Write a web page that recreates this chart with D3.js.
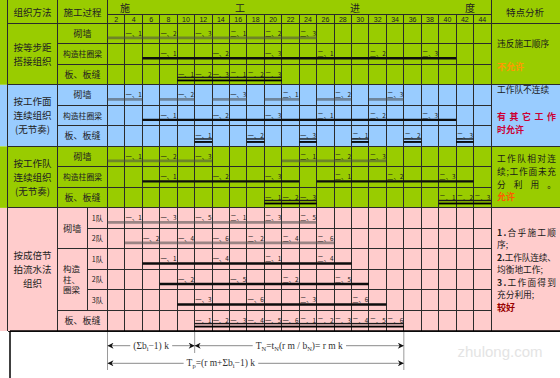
<!DOCTYPE html>
<html>
<head>
<meta charset="utf-8">
<script src="https://cdn.jsdelivr.net/npm/d3@7"></script>
<style>
  body { margin: 0; background: #fff; }
  svg { display: block; font-family: 'Noto Sans CJK SC', sans-serif; }
</style>
</head>
<body>
<svg id="chart"></svg>
<script>
// ---- data ----
const timeTicks = d3.range(2, 46, 2)
const progressTitle = ['施', '工', '进', '度']
const headerNames = ['组织方法', '施工过程', '特点分析']
const methodNames = [
    ['按等步距', '搭接组织'],
    ['按工作面', '连续组织', '(无节奏)'],
    ['按工作队', '连续组织', '(无节奏)'],
    ['按成倍节', '拍流水法', '组织'],
]
const sectionRows = [3, 3, 3, 6]
const processNames = ['砌墙', '构造柱圈梁', '板、板缝']
const beamStacked = ['构造', '柱、', '圈梁']
const teamNames = ['1队', '2队', '1队', '2队', '3队']

// bars: [label, start, end] in time units
const s1Wall = [['一、1', 0, 4], ['一、2', 4, 8], ['一、3', 8, 12], ['二、1', 12, 16], ['二、2', 16, 20], ['二、3', 20, 24]]
const s1Beam = [['一、1', 4, 10], ['一、2', 10, 16], ['一、3', 16, 22], ['二、1', 22, 28], ['二、2', 28, 34], ['二、3', 34, 40]]
const s1Slab = [['一、1', 8, 10], ['一、2', 10, 12], ['一、3', 12, 14], ['二、1', 14, 16], ['二、2', 16, 18], ['二、3', 18, 20]]

const s2Wall = [['一、1', 0, 4], ['一、2', 6, 10], ['一、3', 12, 16], ['二、1', 18, 22], ['二、2', 24, 28], ['二、3', 30, 34]]
const s2Beam = [['一、1', 4, 10], ['一、2', 10, 16], ['一、3', 16, 22], ['二、1', 22, 28], ['二、2', 28, 34], ['二、3', 34, 40]]
const s2Slab = [['一、1', 10, 12], ['一、2', 16, 18], ['一、3', 22, 24], ['二、1', 28, 30], ['二、2', 34, 36], ['二、3', 40, 42]]

const s3Wall = [['一、1', 0, 4], ['一、2', 4, 8], ['一、3', 8, 12], ['二、1', 20, 24], ['二、2', 24, 28], ['二、3', 28, 32]]
const s3Beam = [['一、1', 4, 10], ['一、2', 10, 16], ['一、3', 16, 22], ['二、1', 24, 30], ['二、2', 30, 36], ['二、3', 36, 42]]
const s3Slab = [['一、1', 18, 20], ['一、2', 20, 22], ['一、3', 22, 24], ['二、1', 38, 40], ['二、2', 40, 42], ['二、3', 42, 44]]

const s4Wall1 = [['一、1', 0, 4], ['一、3', 4, 8], ['一、5', 8, 12], ['二、1', 12, 16], ['二、3', 16, 20], ['二、5', 20, 24]]
const s4Wall2 = [['一、2', 2, 6], ['一、4', 6, 10], ['一、6', 10, 14], ['二、2', 14, 18], ['二、4', 18, 22], ['二、6', 22, 26]]
const s4Beam1 = [['一、1', 4, 10], ['一、4', 10, 16], ['二、1', 16, 22], ['二、4', 22, 28]]
const s4Beam2 = [['一、2', 6, 12], ['一、5', 12, 18], ['二、2', 18, 24], ['二、5', 24, 30]]
const s4Beam3 = [['一、3', 8, 14], ['一、6', 14, 20], ['二、3', 20, 26], ['二、6', 26, 32]]
const s4Slab = [['一、1', 10, 12], ['一、2', 12, 14], ['一、3', 14, 16], ['一、4', 16, 18], ['一、5', 18, 20], ['一、6', 20, 22],
    ['二、1', 22, 24], ['二、2', 24, 26], ['二、3', 26, 28], ['二、4', 28, 30], ['二、5', 30, 32], ['二、6', 32, 34]]

const rowBars = [s1Wall, s1Beam, s1Slab, s2Wall, s2Beam, s2Slab, s3Wall, s3Beam, s3Slab,
    s4Wall1, s4Wall2, s4Beam1, s4Beam2, s4Beam3, s4Slab]
const rowKinds = ['wall', 'beam', 'slab', 'wall', 'beam', 'slab', 'wall', 'beam', 'slab',
    'wall', 'wall', 'beam', 'beam', 'beam', 'slab']

const notes1 = ['违反施工顺序', '', '不允许']
const notes2 = ['工作队不连续', '', '有 其 它 工 作', '时允许', '']
const notes3 = ['工作队相对连', '续;工作面未充', '分 利 用   。', '允许']
const notes4 = ['1.合乎施工顺', '序;', '2.工作队连续、', '均衡地工作;', '3.工作面得到', '充分利用;', '较好']

// dimension marks below the table: [from, to] in time units
const dimSpans = [[0, 10], [10, 34], [0, 34]]
const dimTexts = [
    [['(Σb'], ['i', 1], ['−1)  k']],
    [['T'], ['N', 1], ['=t'], ['N', 1], ['(r m / b'], ['N', 1], [')= r m k']],
    [['T'], ['p', 1], ['=(r m+Σb'], ['i', 1], ['−1)  k']],
]

// ---- layout ----
const W = 560, H = 378
const LEFT = 7.5, METHOD_END = 57.5, PROC_END = 107.5, TEAM_X = 87, PLOT_RIGHT = 491
const HEAD_MID = 14, TABLE_TOP = 23.3, TABLE_BOTTOM = 331
const sectionColors = ['#99cc00', '#99ccff', '#99cc00', '#ffcccc']
const gridColor = '#2b2b2b'

const x = d3.scaleLinear().domain([0, 44]).range([PROC_END, PLOT_RIGHT])
const y = d3.scaleBand().domain(d3.range(15)).range([TABLE_TOP, TABLE_BOTTOM])
const rowTop = r => y(r)
const rowBottom = r => y(r) + y.bandwidth()

const sectionStart = d3.cumsum([0, ...sectionRows]).slice(0, 4)
const sections = sectionRows.map((n, i) => ({
    i,
    first: sectionStart[i],
    last: sectionStart[i] + n - 1,
    top: i === 0 ? 0 : rowTop(sectionStart[i]),
    bottom: rowBottom(sectionStart[i] + n - 1),
}))

const svg = d3.select('#chart').attr('width', W).attr('height', H)
svg.append('rect').attr('width', W).attr('height', H).attr('fill', '#fff')

// colour bands
svg.append('g').selectAll('rect').data(sections).join('rect')
    .attr('x', 0).attr('width', W)
    .attr('y', d => d.top).attr('height', d => d.bottom - d.top)
    .attr('fill', d => sectionColors[d.i])

// ---- grid ----
const grid = svg.append('g').attr('stroke', gridColor).attr('stroke-width', 1)
    .attr('shape-rendering', 'crispEdges')
const hLine = (y0, x1, x2) => grid.append('line').attr('x1', x1).attr('x2', x2).attr('y1', y0).attr('y2', y0)
const vLine = (x0, y1, y2) => grid.append('line').attr('x1', x0).attr('x2', x0).attr('y1', y1).attr('y2', y2)

vLine(LEFT, 0, TABLE_BOTTOM)
vLine(METHOD_END, 0, TABLE_BOTTOM)
vLine(PLOT_RIGHT, 0, TABLE_BOTTOM)
d3.range(0, 44, 2).forEach(t => vLine(x(t), t === 0 ? 0 : HEAD_MID, TABLE_BOTTOM))
vLine(TEAM_X, rowTop(9), rowTop(14))

hLine(HEAD_MID, PROC_END, PLOT_RIGHT)
hLine(TABLE_TOP, LEFT, W)
sections.forEach(s => {
    hLine(s.bottom, LEFT, W)
    d3.range(s.first + 1, s.last + 1).forEach(r => {
        const inner = s.i === 3 && [10, 12, 13].includes(r)
        hLine(rowTop(r), inner ? TEAM_X : METHOD_END, PLOT_RIGHT)
    })
})

// ---- header ----
const header = svg.append('g').attr('fill', '#222')
header.selectAll('text.head').data(headerNames).join('text')
    .attr('x', (d, i) => [(LEFT + METHOD_END) / 2, (METHOD_END + PROC_END) / 2, 525][i])
    .attr('y', 15.5)
    .attr('text-anchor', 'middle').attr('font-size', 9.5)
    .text(d => d)

const titleX = d3.scalePoint().domain(progressTitle).range([125, 470])
header.selectAll('text.title').data(progressTitle).join('text')
    .attr('x', d => titleX(d)).attr('y', 11.5)
    .attr('text-anchor', 'middle').attr('font-size', 10)
    .text(d => d)

header.selectAll('text.tick').data(timeTicks).join('text')
    .attr('x', d => x(d - 1)).attr('y', 21.6)
    .attr('text-anchor', 'middle').attr('font-size', 7)
    .attr('font-family', 'Liberation Sans, sans-serif')
    .text(d => d)

// ---- left columns ----
const left = svg.append('g').attr('fill', '#222')
sections.forEach(s => {
    const lines = methodNames[s.i]
    const cy = (rowTop(s.first) + s.bottom) / 2
    left.append('text')
        .attr('text-anchor', 'middle').attr('font-size', 9.5)
        .selectAll('tspan').data(lines).join('tspan')
        .attr('x', (LEFT + METHOD_END) / 2)
        .attr('y', (d, j) => cy + 3.5 + (j - (lines.length - 1) / 2) * 14)
        .text(d => d)
})

const procMid = (METHOD_END + PROC_END) / 2
d3.range(9).forEach(r => {
    const k = r % 3
    left.append('text')
        .attr('x', procMid).attr('y', (rowTop(r) + rowBottom(r)) / 2 + 3.2)
        .attr('text-anchor', 'middle').attr('font-size', k === 1 ? 7.8 : 9)
        .text(processNames[k])
})
left.append('text')
    .attr('x', (METHOD_END + TEAM_X) / 2).attr('y', rowBottom(9) + 3.2)
    .attr('text-anchor', 'middle').attr('font-size', 9)
    .text(processNames[0])
left.append('text').attr('font-size', 8.5)
    .selectAll('tspan').data(beamStacked).join('tspan')
    .attr('x', METHOD_END + 5.5)
    .attr('y', (d, j) => (rowTop(11) + rowBottom(13)) / 2 + 3 + (j - 1) * 10.5)
    .text(d => d)
left.selectAll('text.team').data(teamNames).join('text')
    .attr('x', (TEAM_X + PROC_END) / 2)
    .attr('y', (d, j) => (rowTop(9 + j) + rowBottom(9 + j)) / 2 + 2.6)
    .attr('text-anchor', 'middle').attr('font-size', 7.2)
    .text(d => d)
left.append('text')
    .attr('x', procMid).attr('y', (rowTop(14) + rowBottom(14)) / 2 + 3.2)
    .attr('text-anchor', 'middle').attr('font-size', 9)
    .text(processNames[2])

// ---- bars ----
const bars = svg.append('g')
rowBars.forEach((data, r) => {
    const kind = rowKinds[r]
    const yy = rowTop(r) + 14.5
    const g = bars.append('g')
    if (kind === 'slab') {
        g.selectAll('line.a').data(data).join('line')
            .attr('x1', d => x(d[1])).attr('x2', d => x(d[2]))
            .attr('y1', yy - 1.4).attr('y2', yy - 1.4)
            .attr('stroke', '#1a1a1a').attr('stroke-width', 1.4)
        g.selectAll('line.b').data(data).join('line')
            .attr('x1', d => x(d[1])).attr('x2', d => x(d[2]))
            .attr('y1', yy + 1.6).attr('y2', yy + 1.6)
            .attr('stroke', '#000').attr('stroke-width', 1.8)
    } else {
        g.selectAll('line').data(data).join('line')
            .attr('x1', d => x(d[1])).attr('x2', d => x(d[2]))
            .attr('y1', yy).attr('y2', yy)
            .attr('stroke', kind === 'wall' ? '#4a4a4a' : '#0d0d0d')
            .attr('stroke-opacity', kind === 'wall' ? 0.55 : 1)
            .attr('stroke-width', kind === 'wall' ? 2.8 : 2.4)
    }
    g.selectAll('text').data(data).join('text')
        .attr('x', d => x(d[1] + 2 * Math.floor((d[2] - d[1]) / 4) + 1))
        .attr('y', rowTop(r) + 12.3)
        .attr('text-anchor', 'middle').attr('font-size', 6.3)
        .attr('fill', '#1a1a1a')
        .text(d => d[0])
})

// ---- notes ----
const noteColors = { '不允许': '#ff9900', '有 其 它 工 作': '#cc0033', '时允许': '#cc0033', '允许': '#ff5a00', '较好': '#990000' }
const justified = new Set(['有 其 它 工 作', '工作队相对连', '续;工作面未充', '分 利 用   。', '1.合乎施工顺', '2.工作队连续、', '3.工作面得到'])
const noteLines = [notes1, notes2, notes3, notes4]
const noteLh = [11.5, 13.4, 12.7, 12.5]
const notesG = svg.append('g')
sections.forEach(s => {
    const lines = noteLines[s.i]
    const cy = (rowTop(s.first) + s.bottom) / 2 + 4
    lines.forEach((line, j) => {
        if (!line) return
        const color = noteColors[line]
        const t = notesG.append('text')
            .attr('x', 497)
            .attr('y', cy + (j - (lines.length - 1) / 2) * noteLh[s.i])
            .attr('font-size', color ? 9 : 8.7)
            .attr('font-weight', color ? 700 : 400)
            .attr('fill', color || '#1a1a1a')
        if (justified.has(line)) t.attr('textLength', 59).attr('lengthAdjust', 'spacing')
        if (/^\d\./.test(line)) {
            t.append('tspan').attr('font-weight', 700).text(line.slice(0, 2))
            t.append('tspan').text(line.slice(2))
        } else {
            t.text(line)
        }
    })
})

// ---- bottom dimensions ----
const defs = svg.append('defs')
defs.append('marker').attr('id', 'arrow')
    .attr('viewBox', '0 0 10 10').attr('refX', 10).attr('refY', 5)
    .attr('markerWidth', 7).attr('markerHeight', 6).attr('markerUnits', 'userSpaceOnUse')
    .attr('orient', 'auto-start-reverse')
    .append('path').attr('d', 'M0,0 L10,5 L0,10 L3,5 Z').attr('fill', '#111')

const dims = svg.append('g')
dims.append('line').attr('x1', 10).attr('x2', W).attr('y1', TABLE_BOTTOM).attr('y2', TABLE_BOTTOM)
    .attr('stroke', '#000').attr('stroke-width', 1.5)
dims.append('line').attr('x1', 10).attr('x2', 10).attr('y1', TABLE_BOTTOM).attr('y2', H)
    .attr('stroke', '#000').attr('stroke-width', 1.5)

const extLines = [[0, 370], [10, 353], [34, 370]]
dims.selectAll('line.ext').data(extLines).join('line')
    .attr('x1', d => x(d[0])).attr('x2', d => x(d[0]))
    .attr('y1', TABLE_BOTTOM + 1).attr('y2', d => d[1])
    .attr('stroke', '#9a9a9a').attr('stroke-width', 1)

const dimY = [345.7, 345.7, 363.3]
const dimLabelX = [5, 22, 13]
dimSpans.forEach((span, i) => {
    dims.append('line')
        .attr('x1', x(span[0])).attr('x2', x(span[1]))
        .attr('y1', dimY[i]).attr('y2', dimY[i])
        .attr('stroke', '#8a8a8a').attr('stroke-width', 1)
        .attr('marker-start', 'url(#arrow)').attr('marker-end', 'url(#arrow)')
    const t = dims.append('text')
        .attr('x', x(dimLabelX[i])).attr('y', dimY[i] + 3)
        .attr('text-anchor', 'middle')
        .attr('font-family', 'Liberation Serif, serif').attr('font-size', 9.5)
        .attr('fill', '#333')
    let shift = 0
    dimTexts[i].forEach(([s, sub]) => {
        const dy = sub ? 2 - shift : -shift
        shift = sub ? 2 : 0
        t.append('tspan').attr('dy', dy).attr('font-size', sub ? 6.5 : 9.5).text(s)
    })
    // white gap behind the label so the line breaks around it
    const bb = t.node().getBBox()
    dims.insert('rect', () => t.node())
        .attr('x', bb.x - 3).attr('y', dimY[i] - 2).attr('width', bb.width + 6).attr('height', 4)
        .attr('fill', '#fff')
})

// watermark
svg.append('text').attr('x', 500).attr('y', 357).attr('text-anchor', 'middle')
    .attr('font-family', 'Liberation Sans, sans-serif').attr('font-size', 15)
    .attr('fill', '#e4e4e4').text('zhulong.com')
</script>
</body>
</html>
